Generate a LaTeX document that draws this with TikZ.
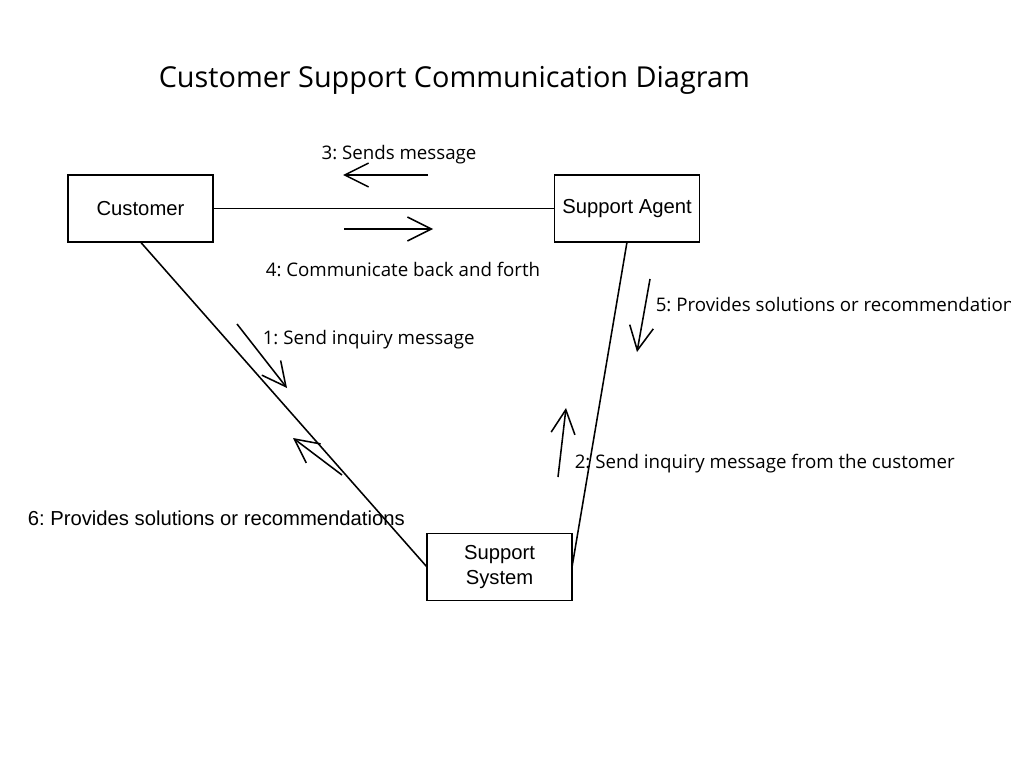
\documentclass[tikz,border=0pt]{standalone}
\usepackage{fontspec}
\setmainfont{Open Sans}
\newfontfamily\arialfont{Liberation Sans}
\usetikzlibrary{arrows.meta}
\frenchspacing
\begin{document}
\begin{tikzpicture}[x=0.025cm, y=-0.025cm, line width=1.1pt,
    obj/.style={draw, minimum width=3.625cm, minimum height=1.675cm, inner sep=0pt, outer sep=0pt, align=center,
        font=\arialfont\fontsize{14.4pt}{17.5pt}\selectfont},
    msg/.style={-{Straight Barb[length=17pt, width=17pt]}},
    lbl/.style={inner sep=0pt, font=\fontsize{13.3pt}{16pt}\selectfont}]
    \useasboundingbox (0, 0) rectangle (1011, 781);

    % Title
    \node[anchor=west, inner sep=0pt, font=\fontsize{20.5pt}{25pt}\selectfont] (title) at (158, 80) {Customer Support Communication Diagram};

    % Objects
    \node[obj] (cust) at (140.5, 208.5) {Customer};
    \node[obj] (agent) at (627, 208.5) {Support Agent};
    \node[obj] (system) at (499.5, 567) {Support\\System};

    % Links
    \draw (cust) -- (agent);
    \draw (cust.south) -- (system.west);
    \draw (agent.south) -- (system.east);

    % Messages
    \coordinate (m1a) at (237, 324);
    \coordinate (m1b) at (287, 388);
    \coordinate (m2a) at (558, 477);
    \coordinate (m2b) at (566, 408);
    \coordinate (m3a) at (428, 175);
    \coordinate (m3b) at (343, 175);
    \coordinate (m4a) at (344, 229);
    \coordinate (m4b) at (433, 229);
    \coordinate (m5a) at (650, 279);
    \coordinate (m5b) at (637, 352);
    \coordinate (m6a) at (342, 475);
    \coordinate (m6b) at (293, 438);
    \draw[msg] (m1a) -- (m1b);
    \draw[msg] (m2a) -- (m2b);
    \draw[msg] (m3a) -- (m3b);
    \draw[msg] (m4a) -- (m4b);
    \draw[msg] (m5a) -- (m5b);
    \draw[msg] (m6a) -- (m6b);

    % Labels
    \node[lbl, anchor=west] (l1) at (262, 340) {1: Send inquiry message};
    \node[lbl, anchor=west] (l2) at (574, 464) {2: Send inquiry message from the customer};
    \node[lbl] (l3) at (399, 155) {3: Sends message};
    \node[lbl] (l4) at (403, 269) {4: Communicate back and forth};
    \node[lbl, anchor=west] (l5) at (655, 305) {5: Provides solutions or recommendations};
    \node[lbl, anchor=west, font=\arialfont\fontsize{14.4pt}{17pt}\selectfont] (l6) at (27, 518) {6: Provides solutions or recommendations};

\end{tikzpicture}
\end{document}
